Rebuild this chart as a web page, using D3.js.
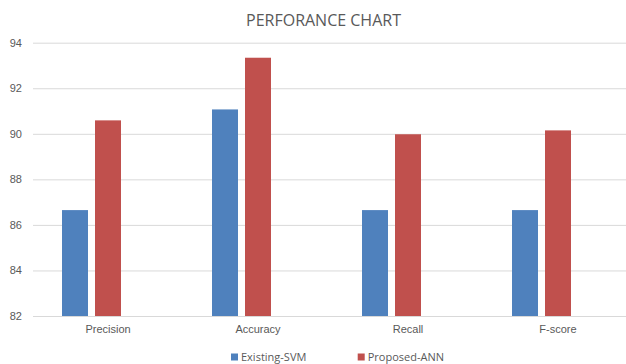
<!DOCTYPE html>
<html>
<head>
<meta charset="utf-8">
<script src="https://cdn.jsdelivr.net/npm/d3@7"></script>
<style>
  html, body { margin: 0; padding: 0; background: #fff; }
  svg { display: block; font-family: "Open Sans", "Liberation Sans", sans-serif; }
</style>
</head>
<body>
<svg id="chart" width="626" height="364"></svg>
<script>
const categories = ["Precision", "Accuracy", "Recall", "F-score"];
const seriesNames = ["Existing-SVM", "Proposed-ANN"];
const svmValues = [86.65, 91.07, 86.65, 86.65];
const annValues = [90.59, 93.34, 89.98, 90.15];
const yTicks = [82, 84, 86, 88, 90, 92, 94];
const seriesColors = ["#4f81bd", "#c0504d"];
const slots = ["Existing-SVM", "Proposed-ANN", "(empty)"]; // third empty slot in the original workbook

const svg = d3.select("#chart");
const plotLeft = 33, plotRight = 633, plotTop = 42.7, plotBottom = 316;

const x = d3.scaleBand().domain(categories).range([plotLeft, plotRight]).padding(0);
const x1 = d3.scaleBand().domain(slots).range([29, 121]).paddingInner(7 / 33).paddingOuter(0);
const y = d3.scaleLinear().domain([82, 94]).range([plotBottom, plotTop]);

// title
svg.append("text")
  .attr("x", 323.5).attr("y", 26)
  .attr("text-anchor", "middle")
  .attr("fill", "#595959")
  .style("font-size", "16px")
  .text("PERFORANCE CHART");

// gridlines
const yAxis = d3.axisLeft(y).tickValues(yTicks).tickSize(-(plotRight - plotLeft)).tickFormat(d3.format("d"));
const gy = svg.append("g").attr("transform", `translate(${plotLeft},0)`).call(yAxis);
gy.select(".domain").remove();
gy.selectAll(".tick line").attr("stroke", "#d9d9d9").attr("stroke-width", 1);
gy.selectAll(".tick text")
  .attr("x", -11)
  .attr("fill", "#595959")
  .style("font-size", "11px");

// bars
const data = categories.map((c, i) => ({ c, vals: [svmValues[i], annValues[i]] }));
const groups = svg.append("g").selectAll("g").data(data).join("g")
  .attr("transform", d => `translate(${x(d.c)},0)`);
groups.selectAll("rect")
  .data(d => d.vals.map((v, k) => ({ v, k })))
  .join("rect")
  .attr("x", d => x1(slots[d.k]))
  .attr("width", x1.bandwidth())
  .attr("y", d => y(d.v))
  .attr("height", d => y(82) - y(d.v))
  .attr("fill", d => seriesColors[d.k]);

// x axis
const xAxis = d3.axisBottom(x).tickSize(0);
const gx = svg.append("g").attr("transform", `translate(0,${plotBottom})`).call(xAxis);
gx.select(".domain").attr("stroke", "#d9d9d9");
gx.selectAll(".tick text")
  .attr("y", 9)
  .attr("fill", "#595959")
  .style("font-size", "11px");

// legend
const legendX = [231, 357.7];
const lg = svg.append("g").selectAll("g").data(seriesNames).join("g")
  .attr("transform", (d, i) => `translate(${legendX[i]},0)`);
lg.append("rect").attr("x", 0).attr("y", 353.5).attr("width", 7).attr("height", 7)
  .attr("fill", (d, i) => seriesColors[i]);
lg.append("text").attr("x", 10).attr("y", 361)
  .attr("fill", "#595959")
  .style("font-size", "11px")
  .text(d => d);
</script>
</body>
</html>
